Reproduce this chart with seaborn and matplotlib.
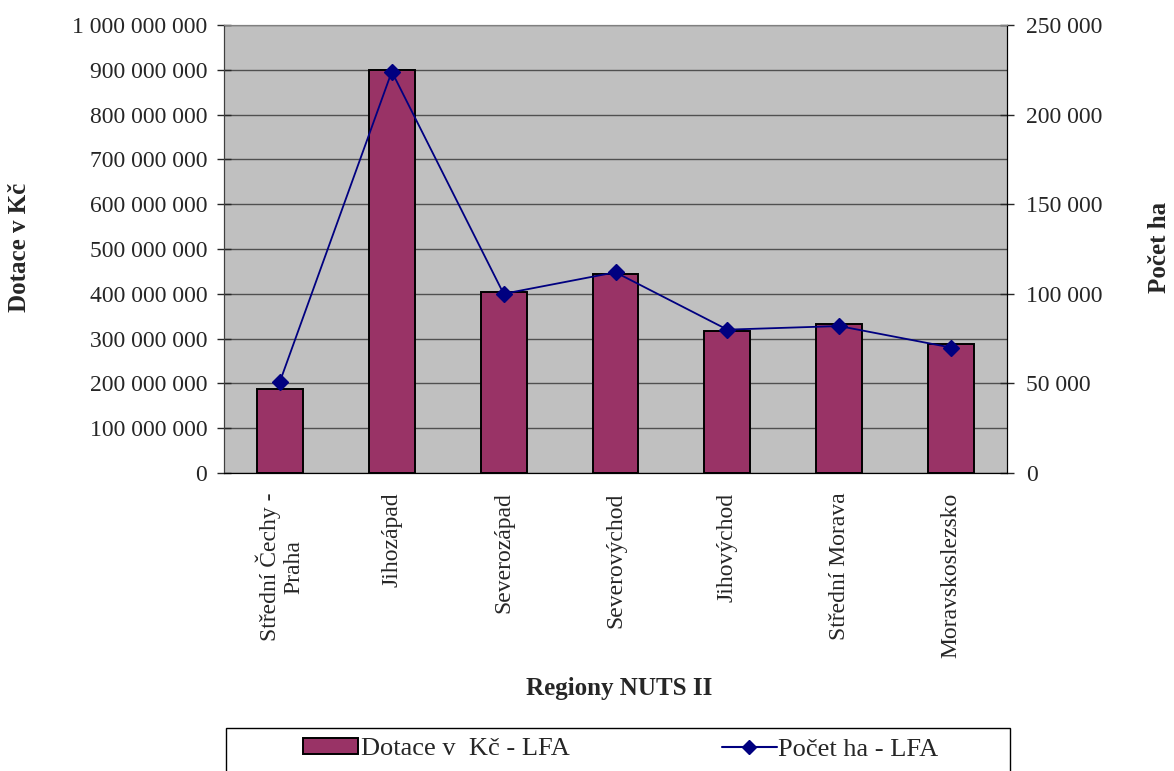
import matplotlib
matplotlib.use("Agg")
import matplotlib.pyplot as plt
import matplotlib.ticker as mticker
from matplotlib.patches import Patch, Rectangle
from matplotlib.lines import Line2D
import seaborn as sns

# data
regions = ["Střední Čechy -\nPraha", "Jihozápad", "Severozápad", "Severovýchod",
           "Jihovýchod", "Střední Morava", "Moravskoslezsko"]
dotace = [187000000, 900000000, 405000000, 445000000, 316000000, 333000000, 289000000]
hektary = [51000, 224000, 100000, 112000, 80000, 82000, 70000]

BAR = "#993366"
LINE = "#000080"

sns.set_style("white")
plt.rcParams["font.family"] = ["Liberation Serif", "DejaVu Serif"]

fig = plt.figure(figsize=(11.74, 7.71), dpi=100)
ax = fig.add_axes([224 / 1174, 298 / 771, 783 / 1174, 448 / 771])
ax.set_facecolor("#C0C0C0")

sns.barplot(x=regions, y=dotace, ax=ax, color=BAR, width=0.41,
            edgecolor="black", linewidth=1.4, saturation=1, zorder=3)
ax.set_ylim(0, 1000000000)
ax.yaxis.set_major_locator(mticker.MultipleLocator(100000000))
fmt = mticker.FuncFormatter(lambda v, p: f"{v:,.0f}".replace(",", " "))
ax.yaxis.set_major_formatter(fmt)
ax.grid(axis="y", color="#505050", linewidth=1.0, zorder=1)
ax.set_axisbelow(True)

ax2 = ax.twinx()
sns.pointplot(x=regions, y=hektary, ax=ax2, color=LINE, markers="D",
              linestyles="-", markersize=8, linewidth=1.3, errorbar=None)
ax2.set_ylim(0, 250000)
ax2.yaxis.set_major_locator(mticker.MultipleLocator(50000))
ax2.yaxis.set_major_formatter(fmt)
ax.set_xlim(-0.5, len(regions) - 0.5)
ax2.set_xlim(-0.5, len(regions) - 0.5)

# ticks
ax.tick_params(axis="y", direction="inout", length=10, width=1, labelsize=17, pad=7)
ax2.tick_params(axis="y", direction="inout", length=10, width=1, labelsize=17, pad=9)
ax.tick_params(axis="x", which="major", length=0, labelsize=17, pad=14, rotation=90)
ax.xaxis.set_minor_locator(mticker.FixedLocator([i + 0.5 for i in range(-1, len(regions))]))
ax.tick_params(axis="x", which="minor", direction="out", length=10, width=1, color="#404040")
for lab in ax.get_xticklabels():
    lab.set_verticalalignment("top")
    lab.set_horizontalalignment("center")
    lab.set_multialignment("center")

for a in (ax, ax2):
    a.set_xlabel("")
    a.set_ylabel("")
    for s in a.spines.values():
        s.set_visible(True)
    a.spines["top"].set_color("#808080")
    a.spines["left"].set_color("#404040")
    a.spines["right"].set_color("black")
    a.spines["bottom"].set_color("black")
ax2.set_facecolor("none")

# axis titles
fig.text(20 / 1174, 1 - 247 / 771, "Dotace v Kč", rotation=90, ha="center", va="center",
         fontsize=18, fontweight="bold")
fig.text(1160 / 1174, 1 - 247 / 771, "Počet ha", rotation=90, ha="center", va="center",
         fontsize=18, fontweight="bold")
fig.text(619 / 1174, 1 - 688 / 771, "Regiony NUTS II", ha="center", va="center",
         fontsize=18, fontweight="bold")

# legend box
fig.patches.append(Rectangle((226 / 1174, -0.05), 784 / 1174, 0.05 + 43 / 771,
                             transform=fig.transFigure, fill=False,
                             edgecolor="black", linewidth=1.0))
h1 = Patch(facecolor=BAR, edgecolor="black", linewidth=1.4)
h2 = Line2D([], [], color=LINE, marker="D", markersize=7, linewidth=1.5)
leg1 = fig.legend([h1], ["Dotace v  Kč - LFA"], loc="center left", frameon=False,
                  bbox_to_anchor=(279 / 1174, 1 - 749 / 771), fontsize=19,
                  handlelength=2.1, handleheight=0.6, handletextpad=0.1)
leg2 = fig.legend([h2], ["Počet ha - LFA"], loc="center left", frameon=False,
                  bbox_to_anchor=(698 / 1174, 1 - 749 / 771), fontsize=19,
                  handlelength=2.1, handletextpad=0.05)

fig.savefig("out.png", dpi=100)
